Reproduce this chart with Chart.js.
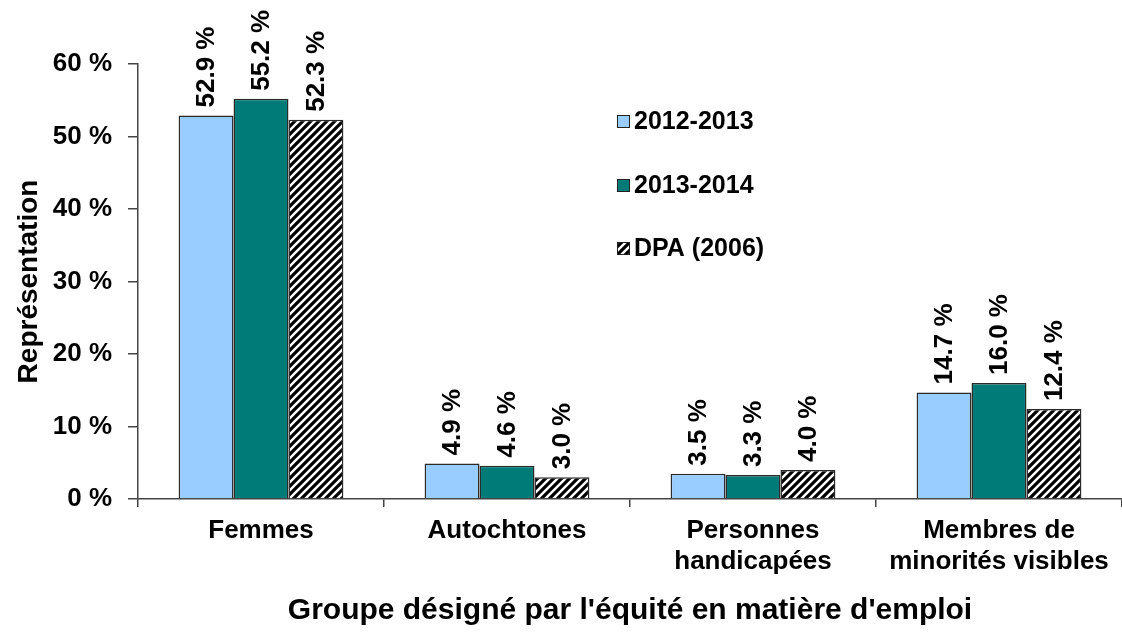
<!DOCTYPE html>
<html>
<head>
<meta charset="utf-8">
<script src="https://cdn.jsdelivr.net/npm/chart.js@4/dist/chart.umd.min.js"></script>
<style>
  html, body { margin: 0; padding: 0; background: #fff; }
  #wrap { width: 1122px; height: 634px; }
</style>
</head>
<body>
<div id="wrap"><canvas id="chart"></canvas></div>
<script>
// ---------- Data ----------
const categories = [
  ["Femmes"],
  ["Autochtones"],
  ["Personnes", "handicapées"],
  ["Membres de", "minorités visibles"]
];
const seriesLabels = ["2012-2013", "2013-2014", "DPA (2006)"];
const values2012 = [52.9, 4.9, 3.5, 14.7];
const values2013 = [55.2, 4.6, 3.3, 16.0];
const valuesDPA = [52.3, 3.0, 4.0, 12.4];
const yTicks = [0, 10, 20, 30, 40, 50, 60];

// ---------- Helpers ----------
function makeHatch() {
  const c = document.createElement("canvas");
  c.width = 8;
  c.height = 8;
  const g = c.getContext("2d");
  g.fillStyle = "#fff";
  g.fillRect(0, 0, 8, 8);
  g.strokeStyle = "#000";
  g.lineWidth = 3.2;
  g.beginPath();
  g.moveTo(-2, 10); g.lineTo(10, -2);
  g.moveTo(-6, 6); g.lineTo(6, -6);
  g.moveTo(2, 14); g.lineTo(14, 2);
  g.stroke();
  return g.createPattern(c, "repeat");
}

const FONT = "'Liberation Sans', Arial, sans-serif";
const hatch = makeHatch();

// rotated value labels above each bar
const valueLabels = {
  id: "valueLabels",
  afterDatasetsDraw(chart) {
    const ctx = chart.ctx;
    ctx.save();
    ctx.font = "bold 26px " + FONT;
    ctx.fillStyle = "#000";
    ctx.textAlign = "left";
    ctx.textBaseline = "middle";
    chart.data.datasets.forEach((ds, i) => {
      chart.getDatasetMeta(i).data.forEach((bar, j) => {
        ctx.save();
        ctx.translate(bar.x + 1, bar.y - 8);
        ctx.rotate(-Math.PI / 2);
        ctx.fillText(ds.data[j].toFixed(1) + " %", 0, 0);
        ctx.restore();
      });
    });
    ctx.restore();
  }
};

// legend drawn inside the plot area
const innerLegend = {
  id: "innerLegend",
  afterDraw(chart) {
    const ctx = chart.ctx;
    ctx.save();
    ctx.font = "bold 25px " + FONT;
    ctx.textBaseline = "middle";
    const x = 617, ys = [121, 185, 248];
    chart.data.datasets.forEach((ds, i) => {
      ctx.fillStyle = ds.backgroundColor;
      ctx.fillRect(x, ys[i] - 6, 13, 13);
      ctx.strokeStyle = "#222";
      ctx.lineWidth = 1;
      ctx.strokeRect(x + 0.5, ys[i] - 5.5, 12, 12);
      ctx.fillStyle = "#000";
      ctx.fillText(ds.label, x + 17, ys[i] + 1);
    });
    ctx.restore();
  }
};

const commonBar = {
  borderColor: "#2a2a2a",
  borderWidth: 1.5,
  categoryPercentage: 0.67,
  barPercentage: 1.0
};

new Chart(document.getElementById("chart"), {
  type: "bar",
  data: {
    labels: categories,
    datasets: [
      Object.assign({ label: seriesLabels[0], data: values2012, backgroundColor: "#99ccff" }, commonBar),
      Object.assign({ label: seriesLabels[1], data: values2013, backgroundColor: "#007b78" }, commonBar),
      Object.assign({ label: seriesLabels[2], data: valuesDPA, backgroundColor: hatch }, commonBar)
    ]
  },
  options: {
    responsive: true,
    maintainAspectRatio: false,
    animation: false,
    layout: { padding: { top: 64, right: 0, left: 0, bottom: 0 } },
    plugins: {
      legend: { display: false },
      tooltip: { enabled: false }
    },
    scales: {
      x: {
        grid: { drawOnChartArea: false, tickLength: 8, color: "#444", lineWidth: 1.5 },
        border: { color: "#444", width: 1.5 },
        ticks: {
          color: "#000",
          padding: 8,
          maxRotation: 0,
          autoSkip: false,
          font: { family: FONT, size: 26, weight: "bold", lineHeight: 1.2 }
        },
        title: {
          display: true,
          text: "Groupe désigné par l'équité en matière d'emploi",
          color: "#000",
          padding: { top: 0, bottom: 5 },
          font: { family: FONT, size: 30, weight: "bold" }
        },
        afterFit(scale) { scale.height = 135; }
      },
      y: {
        min: 0,
        max: 60,
        afterBuildTicks(scale) { scale.ticks = yTicks.map((v) => ({ value: v })); },
        grid: { drawOnChartArea: false, tickLength: 10, color: "#444", lineWidth: 1.5 },
        border: { color: "#444", width: 1.5 },
        ticks: {
          color: "#000",
          padding: 16,
          font: { family: FONT, size: 26, weight: "bold" },
          callback: (v) => v + " %"
        },
        title: {
          display: true,
          text: "Représentation",
          color: "#000",
          padding: { top: 12, bottom: 0 },
          font: { family: FONT, size: 28, weight: "bold" }
        },
        afterFit(scale) { scale.width = 138; }
      }
    }
  },
  plugins: [valueLabels, innerLegend]
});
</script>
</body>
</html>
